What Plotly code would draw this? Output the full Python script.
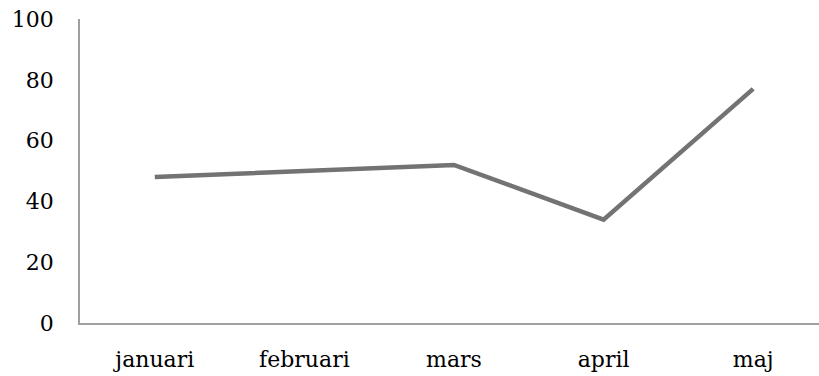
import plotly.graph_objects as go

months = ["januari", "februari", "mars", "april", "maj"]
values = [48, 50, 52, 34, 77]
y_ticks = [0, 20, 40, 60, 80, 100]

fig = go.Figure()
fig.add_trace(go.Scatter(
    x=months,
    y=values,
    mode="lines",
    line=dict(color="#737373", width=4.5),
    hoverinfo="skip",
))

font = dict(family="DejaVu Serif, serif", size=22, color="#000000")

fig.update_layout(
    width=819,
    height=376,
    margin=dict(l=80, r=0, t=19, b=53),
    paper_bgcolor="white",
    plot_bgcolor="white",
    showlegend=False,
    font=font,
)
fig.update_xaxes(
    range=[-0.5, 4.44],
    showgrid=False,
    zeroline=False,
    showline=True,
    linecolor="#a0a0a0",
    linewidth=1.5,
    ticks="",
    ticklabelstandoff=16,
    tickfont=font,
)
fig.update_yaxes(
    range=[0, 100],
    tickvals=y_ticks,
    showgrid=False,
    zeroline=False,
    showline=True,
    linecolor="#a0a0a0",
    linewidth=1.5,
    ticks="",
    ticklabelstandoff=20,
    tickfont=font,
)

fig.write_html("out.html")
